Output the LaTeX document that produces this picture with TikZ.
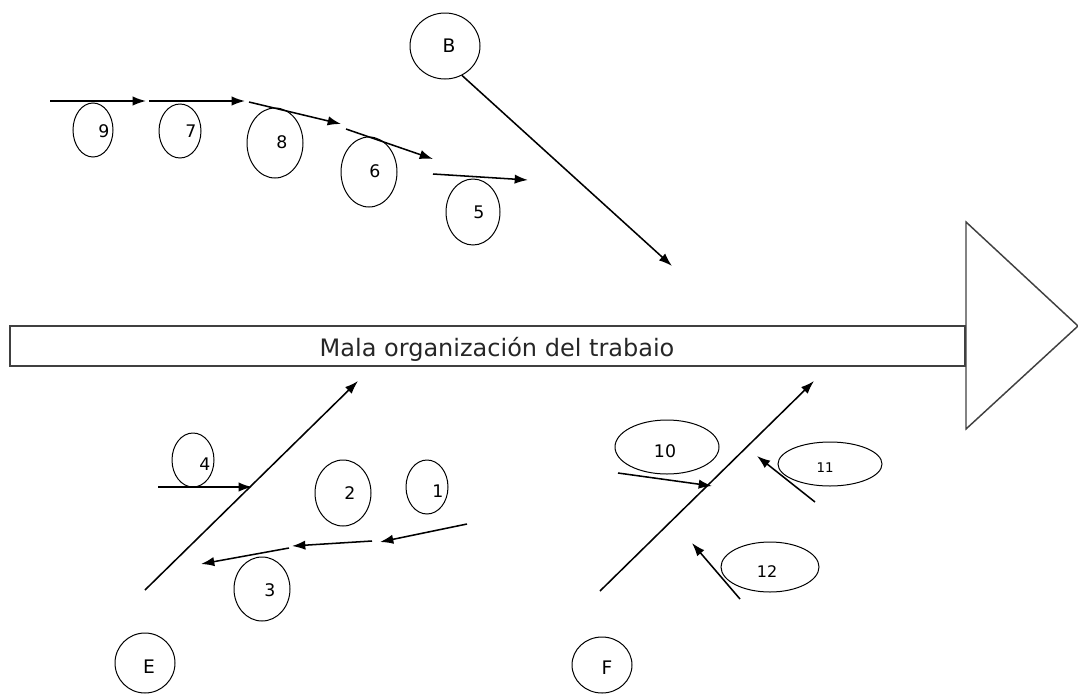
\documentclass[tikz,border=0pt]{standalone}
\usepackage{fontspec}
\setmainfont{DejaVu Sans}
\usetikzlibrary{arrows.meta,shapes.geometric}
\begin{document}
\begin{tikzpicture}[x=0.75pt,y=-0.75pt,
  ell/.style 2 args={draw, line width=0.75pt, ellipse, inner sep=0pt, minimum width=#1*1.5pt, minimum height=#2*1.5pt},
  num/.style={font=\fontsize{13}{13}\selectfont, inner sep=0pt},
  let/.style={font=\fontsize{14}{14}\selectfont, inner sep=0pt},
  arr/.style={line width=1.15pt, -{Latex[length=10pt,width=7pt]}},
  frame/.style={draw=black!75, line width=1.1pt}
]
\useasboundingbox (0,0) rectangle (1078,693);

% main effect
\node[frame, inner sep=0pt, minimum width=955*0.75pt, minimum height=40*0.75pt] (box) at (487.5,346) {};
\node[font=\fontsize{18}{18}\selectfont, inner sep=0pt, text=black!85] (title) at (497,349) {Mala organización del trabaio};
\draw[frame] (966,222) -- (1078,326) -- (966,429) -- cycle;

% ellipses
\node[ell={20}{27}] (e9) at (93,130) {};
\node[ell={21}{27}] (e7) at (180,131) {};
\node[ell={28}{35}] (e8) at (275,143) {};
\node[ell={28}{35}] (e6) at (369,172) {};
\node[ell={27}{33}] (e5) at (473,212) {};
\node[ell={35}{33}] (eB) at (445,46) {};
\node[ell={21}{27}] (e4) at (193,460) {};
\node[ell={28}{33}] (e2) at (343,493) {};
\node[ell={21}{27}] (e1) at (427,487) {};
\node[ell={28}{32}] (e3) at (262,589) {};
\node[ell={30}{30}] (eE) at (145,663) {};
\node[ell={52}{27}] (e10) at (667,447) {};
\node[ell={52}{22}] (e11) at (830,464) {};
\node[ell={49}{25}] (e12) at (770,567) {};
\node[ell={30}{28}] (eF) at (602,665) {};

% labels
\node[num] (t9) at (104,131) {9};
\node[num] (t7) at (191,131) {7};
\node[num] (t8) at (282,142) {8};
\node[num] (t6) at (375,171) {6};
\node[num] (t5) at (479,212) {5};
\node[let] (tB) at (449,46) {B};
\node[num] (t4) at (205,464) {4};
\node[num] (t2) at (350,493) {2};
\node[num] (t1) at (438,491) {1};
\node[num] (t3) at (270,590) {3};
\node[let] (tE) at (149,667) {E};
\node[num] (t10) at (665,451) {10};
\node[font=\fontsize{10}{10}\selectfont, inner sep=0pt] (t11) at (825,468) {11};
\node[font=\fontsize{12}{12}\selectfont, inner sep=0pt] (t12) at (767,572) {12};
\node[let] (tF) at (607,668) {F};

% arrow end points
\coordinate (a9s) at (50,101);  \coordinate (a9e) at (146,101);
\coordinate (a7s) at (149,101); \coordinate (a7e) at (245,101);
\coordinate (a8s) at (249,102); \coordinate (a8e) at (341,124);
\coordinate (a6s) at (346,129); \coordinate (a6e) at (433,159);
\coordinate (a5s) at (433,174); \coordinate (a5e) at (528,180);
\coordinate (aBe) at (672,266);
\coordinate (Es) at (145,590);  \coordinate (Ee) at (358,381);
\coordinate (a4s) at (158,487); \coordinate (a4e) at (252,487);
\coordinate (a1s) at (467,524); \coordinate (a1e) at (380,542);
\coordinate (a2s) at (372,541); \coordinate (a2e) at (292,546);
\coordinate (a3s) at (289,548); \coordinate (a3e) at (201,564);
\coordinate (Fs) at (600,591);  \coordinate (Fe) at (814,381);
\coordinate (a10s) at (618,473); \coordinate (a10e) at (712,486);
\coordinate (a11s) at (815,502); \coordinate (a11e) at (757,456);
\coordinate (a12s) at (740,599); \coordinate (a12e) at (692,543);

% arrows
\draw[arr] (a9s) -- (a9e);
\draw[arr] (a7s) -- (a7e);
\draw[arr] (a8s) -- (a8e);
\draw[arr] (a6s) -- (a6e);
\draw[arr] (a5s) -- (a5e);
\draw[arr] (eB.-60) -- (aBe);
\draw[arr] (Es) -- (Ee);
\draw[arr] (a4s) -- (a4e);
\draw[arr] (a1s) -- (a1e);
\draw[arr] (a2s) -- (a2e);
\draw[arr] (a3s) -- (a3e);
\draw[arr] (Fs) -- (Fe);
\draw[arr] (a10s) -- (a10e);
\draw[arr] (a11s) -- (a11e);
\draw[arr] (a12s) -- (a12e);
\end{tikzpicture}
\end{document}
